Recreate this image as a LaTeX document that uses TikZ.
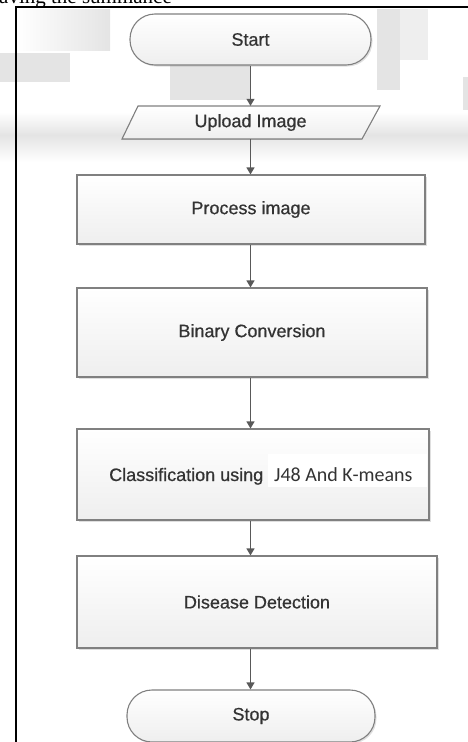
\documentclass[tikz,border=0pt]{standalone}
\usepackage{fontspec}
\setmainfont{Liberation Sans}
\newfontfamily\labelface[FakeBold=0.6]{Liberation Sans}
\newfontfamily\serifpart{Liberation Serif}
\newfontfamily\calib{Carlito}
\usetikzlibrary{arrows.meta,shadows}

\definecolor{edge}{HTML}{808080}
\definecolor{ink}{HTML}{333333}
\definecolor{arrowgray}{HTML}{595959}
\definecolor{wmark}{HTML}{E4E4E4}
\definecolor{wmarklight}{HTML}{EEEEEE}

\tikzset{
  label font/.style={font=\labelface\fontsize{18}{21}\selectfont, text=ink},
  boxfill/.style={top color=white, bottom color=gray!13},
  procbox/.style={draw=edge, line width=1.1pt, boxfill, label font,
    drop shadow={shadow xshift=1.5pt, shadow yshift=-1.5pt, opacity=0.25}},
  terminal/.style={procbox, rounded corners=25pt},
  flow/.style={draw=arrowgray, line width=1.2pt,
    -{Triangle[width=8pt,length=7pt]}}
}

\begin{document}
\begin{tikzpicture}[x=1pt,y=-1pt]
\useasboundingbox (0,0) rectangle (468,742);

% faint watermark blocks behind the chart
\shade[left color=white, right color=wmark] (17,9) rectangle (110,50);
\fill[wmark] (0,53) rectangle (70,82);
\fill[wmark] (170,63) rectangle (250,100);
\fill[wmark] (377,9) rectangle (400,90);
\fill[wmarklight] (400,9) rectangle (428,60);
\fill[wmark] (463,77) rectangle (468,110);
\shade[top color=white, bottom color=wmark] (0,112) rectangle (468,135);
\shade[top color=wmark, bottom color=white] (0,135) rectangle (468,162);

% line of running text above the frame
\node[anchor=base west, inner sep=0, text=black,
      font=\serifpart\fontsize{21}{24}\selectfont] (topline) at (-1,3) {aving the summance};

% page frame
\draw[line width=1.6pt] (16,742) -- (16,7) -- (468,7);

% flowchart steps
\node[terminal, minimum width=241pt, minimum height=51pt] (start) at (250.5,39.5) {Start};

\fill[boxfill, draw=edge, line width=1.1pt] (122,139) -- (138,106) -- (380,106) -- (362,139) -- cycle;
\node[label font, minimum width=220pt, minimum height=33pt, inner sep=0] (upload) at (250.5,122.5) {Upload Image};

\node[procbox, minimum width=348pt, minimum height=69pt] (process) at (251,209.5) {Process image};
\node[procbox, minimum width=350pt, minimum height=89pt] (binary) at (252,332.5) {Binary Conversion};
\node[procbox, minimum width=352pt, minimum height=91pt] (classify) at (253,474.5) {};
\fill[white] (268,454) rectangle (427,487);
\node[label font, anchor=base west, inner sep=0] (clsname) at (109,481) {Classification using};
\node[anchor=base west, inner sep=0, text=ink,
      font=\calib\fontsize{20}{22}\selectfont] (clsalg) at (274,481) {J48 And K-means};
\node[procbox, minimum width=360pt, minimum height=92pt] (disease) at (257,602) {Disease Detection};
\node[terminal, minimum width=248pt, minimum height=52pt] (stop) at (251,716) {Stop};

% connectors
\draw[flow] (start.south) -- (start.south |- upload.north);
\draw[flow] (upload.south) -- (upload.south |- process.north);
\draw[flow] (process.south -| upload.south) -- (upload.south |- binary.north);
\draw[flow] (binary.south -| upload.south) -- (upload.south |- classify.north);
\draw[flow] (classify.south -| upload.south) -- (upload.south |- disease.north);
\draw[flow] (disease.south -| upload.south) -- (upload.south |- stop.north);
\end{tikzpicture}
\end{document}
